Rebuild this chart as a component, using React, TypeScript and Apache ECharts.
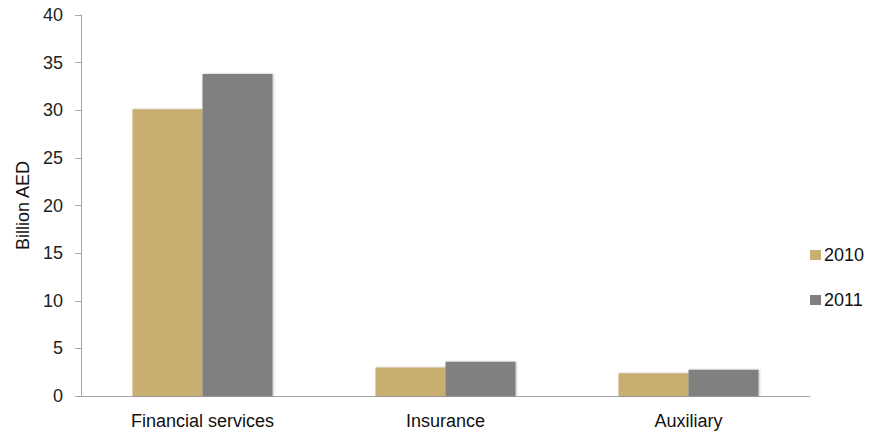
import React, { useEffect, useRef } from "react";
import * as echarts from "echarts";

const categories = ["Financial services", "Insurance", "Auxiliary"];
const values2010 = [30.1, 3.0, 2.4];
const values2011 = [33.8, 3.6, 2.75];
const seriesNames = ["2010", "2011"];
const yTicks = { min: 0, max: 40, interval: 5 };

export default function App() {
  const ref = useRef<HTMLDivElement>(null);
  useEffect(() => {
    if (!ref.current) return;
    const chart = echarts.init(ref.current, undefined, { renderer: "svg" });
    const font = "'Liberation Sans', Arial, sans-serif";
    chart.setOption({
      animation: false,
      backgroundColor: "#ffffff",
      textStyle: { fontFamily: font },
      grid: { left: 81, right: 61, top: 15, bottom: 36, containLabel: false },
      legend: {
        orient: "vertical",
        left: 805,
        top: 241,
        itemWidth: 11,
        itemHeight: 10,
        itemGap: 27,
        icon: "rect",
        data: seriesNames,
        textStyle: { fontSize: 18, color: "#111", fontFamily: font, padding: [0, 0, 0, -2] },
      },
      xAxis: {
        type: "category",
        data: categories,
        axisLine: { lineStyle: { color: "#a6a6a6", width: 1 } },
        axisTick: { show: false },
        axisLabel: { fontSize: 18, color: "#111", margin: 16, fontFamily: font },
      },
      yAxis: {
        type: "value",
        min: yTicks.min,
        max: yTicks.max,
        interval: yTicks.interval,
        name: "Billion AED",
        nameLocation: "middle",
        nameGap: 46,
        nameTextStyle: { fontSize: 18, color: "#111", fontFamily: font },
        axisLine: { show: true, lineStyle: { color: "#a6a6a6", width: 1 } },
        axisTick: { show: true, length: 6, lineStyle: { color: "#a6a6a6" } },
        splitLine: { show: false },
        axisLabel: { fontSize: 18, color: "#222", margin: 18, fontFamily: font },
      },
      series: [
        {
          name: seriesNames[0],
          type: "bar",
          data: values2010,
          barWidth: 70,
          barGap: "0%",
          itemStyle: { color: "#c9ae72", shadowColor: "rgba(0,0,0,0.25)", shadowBlur: 2, shadowOffsetX: 1, shadowOffsetY: 0 },
        },
        {
          name: seriesNames[1],
          type: "bar",
          data: values2011,
          barWidth: 70,
          barGap: "0%",
          itemStyle: { color: "#808080", shadowColor: "rgba(0,0,0,0.25)", shadowBlur: 2, shadowOffsetX: 1, shadowOffsetY: 0 },
        },
      ],
    });
    return () => chart.dispose();
  }, []);
  return (
    <div
      ref={ref}
      style={{ position: "absolute", left: 0, top: 0, width: 871, height: 432 }}
    />
  );
}
